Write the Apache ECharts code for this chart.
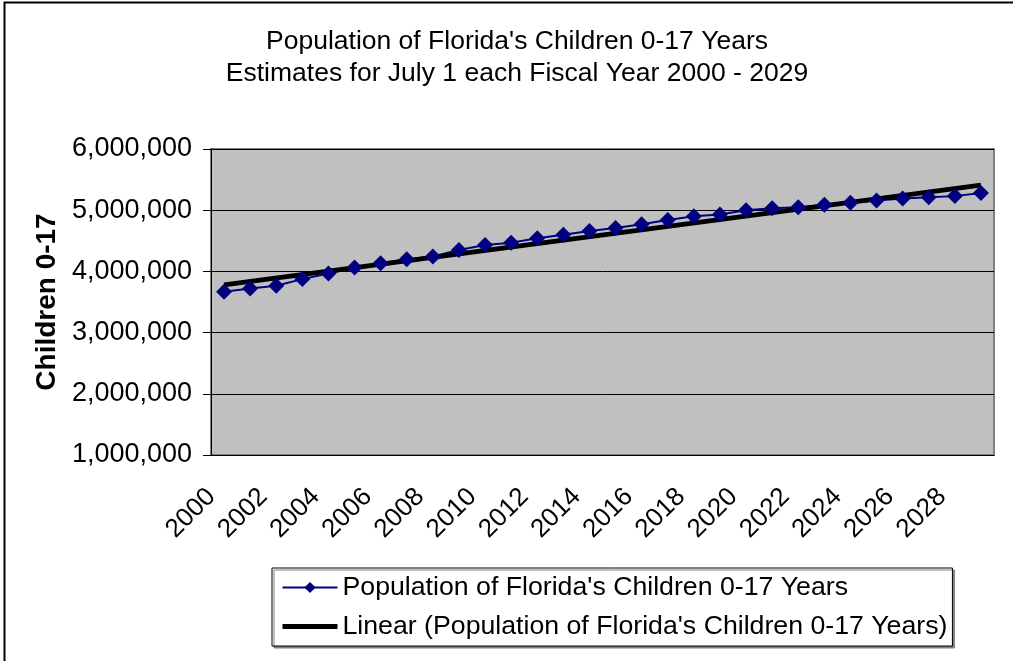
<!DOCTYPE html>
<html>
<head>
<meta charset="utf-8">
<script src="https://cdn.jsdelivr.net/npm/echarts@6/dist/echarts.min.js"></script>
<style>
  html, body { margin: 0; padding: 0; background: #fff; }
  #chart { width: 1013px; height: 661px; }
</style>
</head>
<body>
<div id="chart"></div>
<script>
// fiscal years 2000 - 2029
const years = [
  "2000", "2001", "2002", "2003", "2004", "2005", "2006", "2007", "2008", "2009",
  "2010", "2011", "2012", "2013", "2014", "2015", "2016", "2017", "2018", "2019",
  "2020", "2021", "2022", "2023", "2024", "2025", "2026", "2027", "2028", "2029",
];

// children 0-17
const population = [
  3667000, 3720000, 3765000, 3874000, 3967000, 4065000, 4135000, 4200000, 4245000, 4350000,
  4430000, 4470000, 4540000, 4600000, 4660000, 4710000, 4770000, 4840000, 4900000, 4930000,
  5000000, 5030000, 5050000, 5090000, 5120000, 5160000, 5190000, 5210000, 5230000, 5280000,
];

// linear trendline, ends
const trendStart = 3780000;
const trendEnd = 5410000;
const trend = years.map((y, i) =>
  i === 0 ? trendStart : i === years.length - 1 ? trendEnd : null
);

const yTicks = { min: 1000000, max: 6000000, step: 1000000 };

const seriesName = "Population of Florida's Children 0-17 Years";
const trendName = "Linear (Population of Florida's Children 0-17 Years)";

const chart = echarts.init(document.getElementById("chart"));

const option = {
  backgroundColor: "#fff",
  animation: false,
  textStyle: { fontFamily: "Liberation Sans, Arial, sans-serif", color: "#000" },
  title: {
    text: "Population of Florida's Children 0-17 Years\nEstimates for July 1 each Fiscal Year 2000 - 2029",
    left: 512,
    textAlign: "center",
    top: 21,
    textStyle: {
      fontSize: 26.5,
      fontWeight: "normal",
      lineHeight: 32,
      color: "#000",
    },
  },
  graphic: [
    {
      type: "rect",
      shape: { x: 4.5, y: 2.5, width: 1100, height: 700 },
      style: { fill: "none", stroke: "#000", lineWidth: 2 },
      silent: true,
    },
  ],
  grid: {
    left: 211,
    right: 19,
    top: 149,
    bottom: 206,
    show: true,
    backgroundColor: "#c0c0c0",
    borderColor: "#808080",
    borderWidth: 2,
  },
  legend: {
    orient: "vertical",
    left: 272,
    top: 568,
    itemWidth: 55,
    itemHeight: 14,
    itemGap: 12,
    padding: [6, 5, 6, 8],
    backgroundColor: "#fff",
    borderColor: "#000",
    borderWidth: 1,
    shadowColor: "#808080",
    shadowOffsetX: 2,
    shadowOffsetY: 2,
    textStyle: { fontSize: 26.7, color: "#000" },
    data: [
      seriesName,
      { name: trendName, itemStyle: { opacity: 0 }, lineStyle: { width: 5, color: "#000" } },
    ],
  },
  xAxis: {
    type: "category",
    data: years,
    boundaryGap: true,
    axisLine: { lineStyle: { color: "#000", width: 1 } },
    axisTick: { interval: 0, length: 8, lineStyle: { color: "#000" } },
    axisLabel: {
      interval: 1,
      rotate: 45,
      fontSize: 26,
      color: "#000",
      margin: 25,
      padding: [0, 18, 0, 0],
    },
  },
  yAxis: {
    type: "value",
    min: yTicks.min,
    max: yTicks.max,
    interval: yTicks.step,
    name: "Children 0-17",
    nameLocation: "middle",
    nameGap: 150,
    nameTextStyle: { fontSize: 28, fontWeight: "bold", color: "#000" },
    axisLine: { show: true, lineStyle: { color: "#000", width: 1 } },
    axisTick: { show: true, length: 8, lineStyle: { color: "#000" } },
    axisLabel: {
      fontSize: 27,
      color: "#000",
      margin: 19,
      formatter: (v) => v.toLocaleString("en-US"),
    },
    splitLine: { lineStyle: { color: "#000", width: 1 } },
  },
  series: [
    {
      name: seriesName,
      type: "line",
      data: population,
      symbol: "diamond",
      symbolSize: 16,
      lineStyle: { color: "#000080", width: 2 },
      itemStyle: { color: "#000080" },
    },
    {
      name: trendName,
      type: "line",
      data: trend,
      connectNulls: true,
      symbol: "none",
      lineStyle: { color: "#000", width: 5 },
      itemStyle: { color: "#000" },
    },
  ],
};

chart.setOption(option);
</script>
</body>
</html>
